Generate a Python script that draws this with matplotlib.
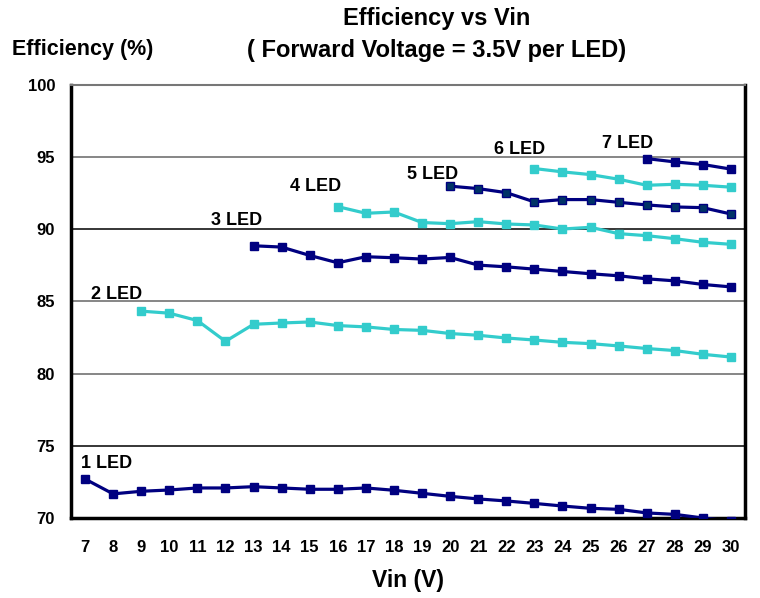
import matplotlib
matplotlib.use("Agg")
import matplotlib.pyplot as plt

# ── data ─────────────────────────────────────────────────────────────────────
vin = list(range(7, 31))

led1 = [72.7, 71.67, 71.85, 71.94, 72.08, 72.08, 72.17, 72.08, 71.99, 71.99,
        72.08, 71.92, 71.71, 71.5, 71.32, 71.18, 71.01, 70.83, 70.67, 70.6,
        70.35, 70.25, 70.0, 69.78]
led2 = [84.33, 84.19, 83.68, 82.24, 83.42, 83.51, 83.58, 83.33, 83.24, 83.06,
        83.0, 82.78, 82.66, 82.47, 82.33, 82.17, 82.08, 81.92, 81.74, 81.6,
        81.34, 81.15]
led3 = [88.86, 88.77, 88.19, 87.68, 88.1, 88.03, 87.94, 88.05, 87.52, 87.4,
        87.24, 87.08, 86.92, 86.78, 86.57, 86.43, 86.18, 86.01]
led4 = [91.57, 91.11, 91.2, 90.47, 90.39, 90.53, 90.37, 90.3, 90.02, 90.14,
        89.7, 89.56, 89.35, 89.1, 88.96]
led5 = [92.99, 92.82, 92.54, 91.9, 92.06, 92.06, 91.87, 91.69, 91.55, 91.5,
        91.06]
led6 = [94.21, 93.98, 93.79, 93.47, 93.05, 93.12, 93.05, 92.92]
led7 = [94.9, 94.67, 94.49, 94.17]

series = [led1, led2, led3, led4, led5, led6, led7]
labels = ["1 LED", "2 LED", "3 LED", "4 LED", "5 LED", "6 LED", "7 LED"]
label_pos = [(6.85, 73.8), (7.2, 85.5), (11.5, 90.6), (14.3, 92.95),
             (18.45, 93.8), (21.55, 95.5), (25.4, 95.95)]

NAVY = "#000080"
CYAN = "#33CCCC"
marker_fill = [NAVY, CYAN, NAVY, CYAN, "#003366", CYAN, NAVY]

plt.rcParams["font.family"] = ["Liberation Sans", "DejaVu Sans"]
plt.rcParams["font.weight"] = "bold"

fig = plt.figure(figsize=(7.6, 5.98), dpi=100)
ax = fig.add_axes([0.0934, 0.1338, 0.8869, 0.7241])

for i, ys in enumerate(series):
    xs = vin[len(vin) - len(ys):]
    c = NAVY if i % 2 == 0 else CYAN
    ax.plot(xs, ys, color=c, lw=2.3, marker="s", ms=6, mfc=marker_fill[i],
            mec=c, mew=1, solid_joinstyle="miter", zorder=3)
    tx, ty = label_pos[i]
    ax.text(tx, ty, labels[i], fontsize=13, fontweight="bold",
            ha="left", va="center", zorder=4)

ax.set_xlim(6.5, 30.5)
ax.set_ylim(70, 100)
ax.set_xticks(vin)
ax.set_yticks(range(70, 101, 5))
ax.tick_params(length=0, labelsize=12)
ax.tick_params(axis="x", pad=16)
ax.tick_params(axis="y", pad=11.5)
for lab in ax.get_xticklabels() + ax.get_yticklabels():
    lab.set_fontweight("bold")

grid_colors = {75: "black", 80: "#666666", 85: "#666666", 90: "black", 95: "#666666"}
for yv, gc in grid_colors.items():
    ax.axhline(yv, color=gc, lw=1.1, zorder=1)

for side in ["left", "bottom", "right"]:
    ax.spines[side].set_linewidth(2.5)
    ax.spines[side].set_color("black")
ax.spines["top"].set_linewidth(1.5)
ax.spines["top"].set_color("#777777")

fig.text(437 / 760, 1 - 18 / 598, "Efficiency vs Vin", ha="center",
         va="center", fontsize=17, fontweight="bold")
fig.text(437 / 760, 1 - 50 / 598, "( Forward Voltage = 3.5V per LED)",
         ha="center", va="center", fontsize=17, fontweight="bold")
fig.text(12 / 760, 1 - 50 / 598, "Efficiency (%)", ha="left", va="center",
         fontsize=15.5, fontweight="bold")
fig.text(408 / 760, 1 - 580 / 598, "Vin (V)", ha="center", va="center",
         fontsize=16.5, fontweight="bold")

fig.savefig("out.png", dpi=100)
